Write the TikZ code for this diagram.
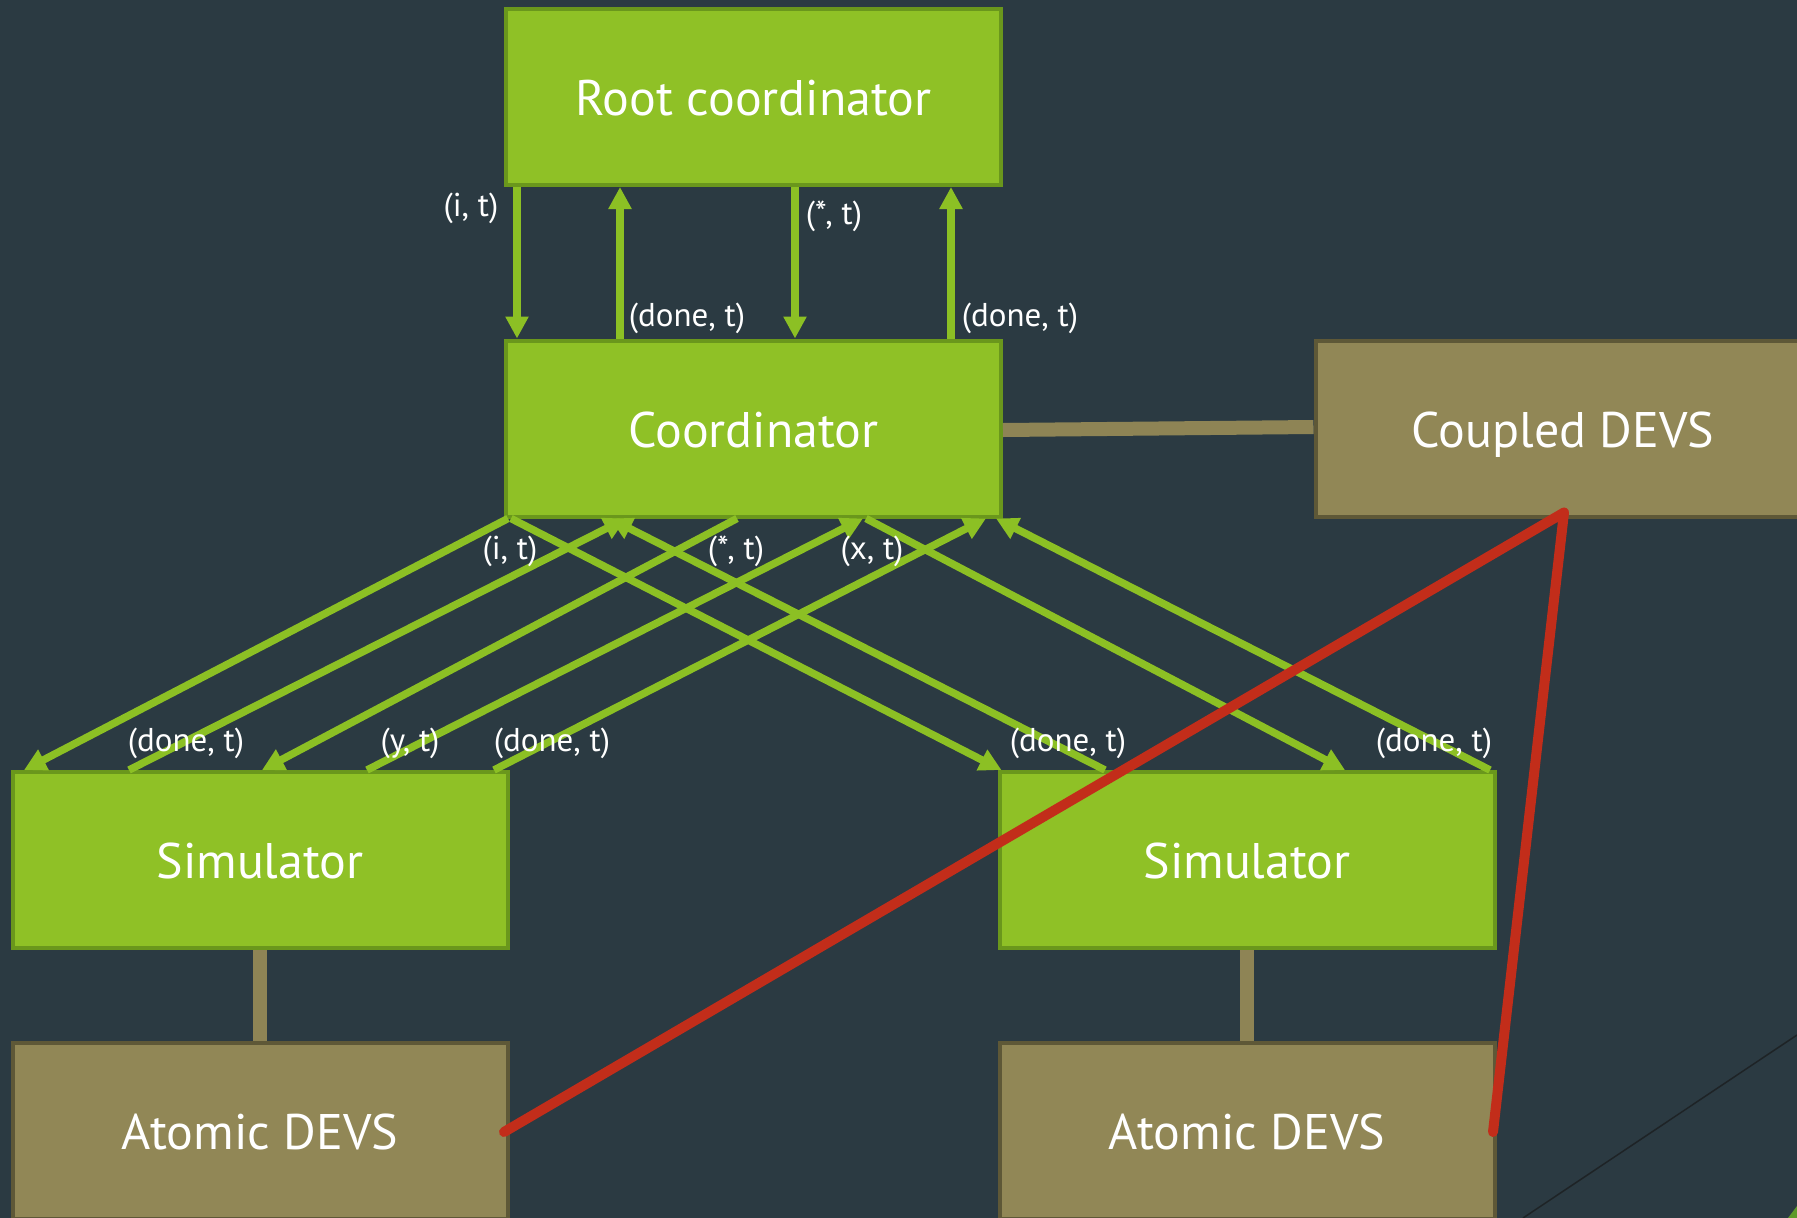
\documentclass[tikz,border=0pt]{standalone}
\usepackage{fontspec}
\setmainfont{PT Sans}
\usetikzlibrary{arrows.meta,calc}
\definecolor{bg}{HTML}{2B3A42}
\definecolor{gfill}{HTML}{8FC126}
\definecolor{gline}{HTML}{6A971C}
\definecolor{garrow}{HTML}{8CC024}
\definecolor{tfill}{HTML}{918756}
\definecolor{tline}{HTML}{5E5837}
\definecolor{tlink}{HTML}{8E8455}
\definecolor{redl}{HTML}{C22D1A}
\definecolor{darkl}{HTML}{1E2326}
\definecolor{cornerg}{HTML}{5E9A2A}
\begin{document}
\begin{tikzpicture}[x=1pt,y=-1pt,
  box/.style={draw, line width=4pt, minimum width=495pt, minimum height=176pt, inner sep=0pt, text=white, text height=37.5pt, text depth=0pt, font=\fontsize{50}{56}\selectfont},
  greenbox/.style={box, fill=gfill, draw=gline},
  tanbox/.style={box, fill=tfill, draw=tline},
  arr/.style={draw=garrow, line width=7.5pt, -{Triangle[width=22pt,length=22pt]}},
  lbl/.style={text=white, inner sep=0pt, font=\fontsize{33}{37}\selectfont},
  link/.style={draw=tlink, line width=14pt},
  redline/.style={draw=redl, line width=10pt, line cap=round, line join=round}]
\useasboundingbox (0,0) rectangle (1797,1218);
\fill[bg] (0,0) rectangle (1797,1218);
\clip (0,0) rectangle (1797,1218);

% boxes
\node[greenbox] (root) at (753.5,97) {Root coordinator};
\node[greenbox] (coord) at (753.5,428.5) {Coordinator};
\node[tanbox] (coupled) at (1563,428.5) {Coupled DEVS};
\node[greenbox] (simL) at (260,860) {Simulator};
\node[greenbox] (simR) at (1247,860) {Simulator};
\node[tanbox] (atomL) at (260,1131) {Atomic DEVS};
\node[tanbox] (atomR) at (1247,1131) {Atomic DEVS};

% tan links
\draw[link] ($(coord.east)+(0,1.5)$) -- ($(coupled.west)+(0,-1.5)$);
\draw[link] (simL.south) -- (atomL.north);
\draw[link] (simR.south) -- (atomR.north);

% root <-> coordinator
\draw[arr] ($(root.south west)+(13,0)$) -- ($(coord.north west)+(13,0)$);
\draw[arr] ($(coord.north west)+(116,0)$) -- ($(root.south west)+(116,0)$);
\draw[arr] ($(root.south west)+(291,0)$) -- ($(coord.north west)+(291,0)$);
\draw[arr] ($(coord.north west)+(447,0)$) -- ($(root.south west)+(447,0)$);

% coordinator <-> left simulator
\draw[arr] ($(coord.south west)+(4,0)$) -- ($(simL.north west)+(13.5,0)$);
\draw[arr] ($(simL.north west)+(118.5,0)$) -- ($(coord.south west)+(122,0)$);
\draw[arr] ($(coord.south west)+(233,0)$) -- ($(simL.north west)+(251.5,0)$);
\draw[arr] ($(simL.north west)+(356.5,0)$) -- ($(coord.south west)+(359,0)$);
\draw[arr] ($(simL.north west)+(483.5,0)$) -- ($(coord.south west)+(482,0)$);

% coordinator <-> right simulator
\draw[arr] ($(coord.south west)+(7,0)$) -- ($(simR.north west)+(4,0)$);
\draw[arr] ($(simR.north west)+(107.5,0)$) -- ($(coord.south west)+(106,0)$);
\draw[arr] ($(coord.south west)+(362,0)$) -- ($(simR.north west)+(347.5,0)$);
\draw[arr] ($(simR.north west)+(492.5,0)$) -- ($(coord.south west)+(492,0)$);

% labels
\node[lbl] (t1) at (471,208) {(i, t)};
\node[lbl] (t2) at (687,318) {(done, t)};
\node[lbl] (t3) at (834,216) {(*, t)};
\node[lbl] (t4) at (1020,318) {(done, t)};
\node[lbl] (b1) at (510,551) {(i, t)};
\node[lbl] (b2) at (736,551) {(*, t)};
\node[lbl] (b3) at (872,551) {(x, t)};
\node[lbl] (s1) at (186,743) {(done, t)};
\node[lbl] (s2) at (410,743) {(y, t)};
\node[lbl] (s3) at (552,743) {(done, t)};
\node[lbl] (s4) at (1068,743) {(done, t)};
\node[lbl] (s5) at (1434,743) {(done, t)};

% red lines
\draw[redline] ($(atomL.east)+(-5.5,1)$) -- ($(coupled.south)+(1,-6)$) -- ($(atomR.east)+(-3.5,1)$);

% stray marks
\draw[darkl, line width=1.5pt] (1523,1218) -- (1797,1035);
\fill[cornerg] (1788,1218) -- (1797,1206) -- (1797,1218) -- cycle;
\end{tikzpicture}
\end{document}
